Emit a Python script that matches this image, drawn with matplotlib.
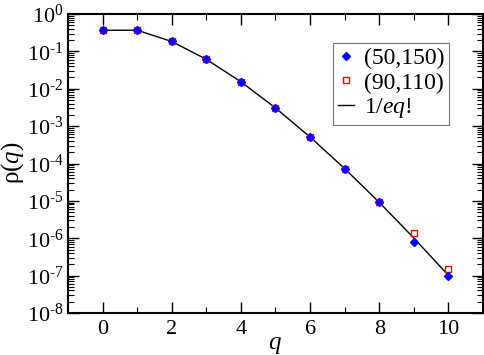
import matplotlib
matplotlib.use("Agg")
import matplotlib.pyplot as plt
from matplotlib.ticker import LogLocator, NullFormatter, FixedLocator, FuncFormatter
import math

plt.rcParams['font.family'] = ['Liberation Serif', 'DejaVu Serif']
plt.rcParams['mathtext.fontset'] = 'custom'
plt.rcParams['mathtext.rm'] = 'Liberation Serif'
plt.rcParams['mathtext.it'] = 'Liberation Serif:italic'
plt.rcParams['axes.unicode_minus'] = False

q = [0, 1, 2, 3, 4, 5, 6, 7, 8, 9, 10]
rho_50_150 = [0.368, 0.368, 0.184, 0.0613, 0.0153, 0.00307, 5.1e-4, 7.3e-5, 9.1e-6, 8.0e-7, 1.0e-7]
rho_90_110 = [0.368, 0.368, 0.184, 0.0613, 0.0153, 0.00307, 5.1e-4, 7.3e-5, 9.2e-6, 1.4e-6, 1.5e-7]
theory = [0.3679, 0.3679, 0.1839, 0.06131, 0.01533, 0.003066, 5.11e-4, 7.30e-5, 9.12e-6, 1.014e-6, 1.014e-7]
x_major = [0, 2, 4, 6, 8, 10]
x_minor = [1, 3, 5, 7, 9]

fig = plt.figure(figsize=(4.85, 3.55), dpi=100)
ax = fig.add_axes([68/485, 1-313/355, (483-68)/485, (313-14)/355])

ax.plot(q, theory, color='black', lw=1.0, label=r'1/$eq$!', zorder=1)
ax.plot(q, rho_90_110, ls='none', marker='s', ms=5, mfc='none', mec='red', mew=1.0,
        label='(90,110)', zorder=2)
ax.plot(q, rho_50_150, ls='none', marker='D', ms=4, color='blue', mec='blue',
        label='(50,150)', zorder=3)

ax.set_yscale('log')
ax.set_xlim(-1, 11)
ax.set_ylim(1e-8, 1)
ax.xaxis.set_major_locator(FixedLocator(x_major))
ax.xaxis.set_minor_locator(FixedLocator(x_minor))
ax.yaxis.set_major_locator(LogLocator(base=10, numticks=20))
ax.yaxis.set_minor_locator(LogLocator(base=10, subs=range(2, 10), numticks=20))
ax.yaxis.set_minor_formatter(NullFormatter())


def fmt(v, pos):
    e = int(round(math.log10(v)))
    if e < 0:
        return r'$\mathregular{10^{\text{-}%d}}$' % (-e)
    return r'$\mathregular{10^{%d}}$' % e


ax.yaxis.set_major_formatter(FuncFormatter(fmt))
ax.tick_params(which='both', direction='in', top=True, right=True, labelsize=16)
ax.tick_params(which='major', length=8, width=1)
ax.tick_params(axis='y', which='major', pad=3)
ax.tick_params(axis='x', which='major', pad=5)
ax.tick_params(which='minor', length=4, width=0.8)
for s in ax.spines.values():
    s.set_linewidth(1.5)

ax.set_xlabel(r'$q$', fontsize=18)
ax.xaxis.set_label_coords((275-68)/415, -(334-313)/299)
ax.set_ylabel(r'$\mathrm{\rho}(q)$', fontsize=18)
ax.yaxis.set_label_coords(-(68-26)/415, 1-(163-14)/299)

h, l = ax.get_legend_handles_labels()
order = [2, 1, 0]
leg = ax.legend([h[i] for i in order], [l[i] for i in order], loc='upper left',
                bbox_to_anchor=((333-68)/415, 1-(43-14)/299), fontsize=17, frameon=True,
                fancybox=False, edgecolor='#555555', handlelength=0.7, handletextpad=0.4,
                borderpad=0.2, labelspacing=0.12, borderaxespad=0)
leg.get_frame().set_linewidth(0.8)

fig.savefig('out.png', dpi=100)
